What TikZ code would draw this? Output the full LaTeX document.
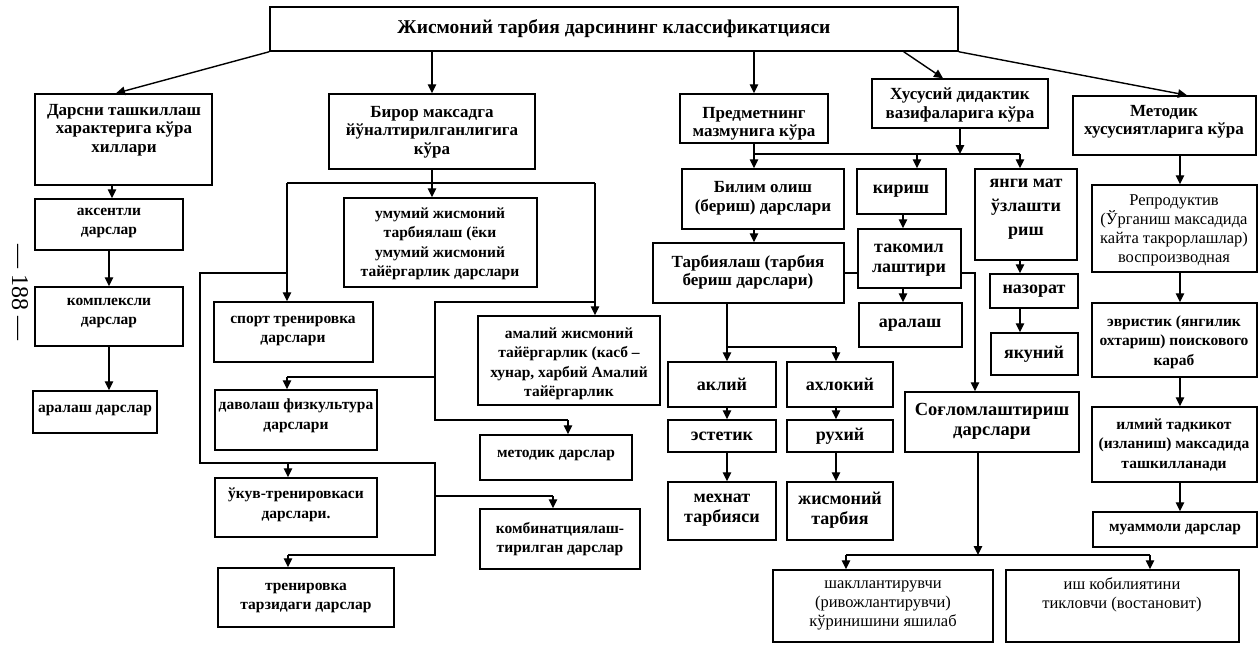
\documentclass[tikz,border=0pt]{standalone}
\usepackage{fontspec}
\setmainfont{Liberation Serif}
\usetikzlibrary{arrows.meta,fit,calc}
\newcommand\ftitle{\fontsize{19.5}{22}\selectfont\bfseries}
\newcommand\fhead{\fontsize{17}{18.5}\selectfont\bfseries}
\newcommand\fbody{\fontsize{15.5}{19.5}\selectfont\bfseries}
\newcommand\fmed{\fontsize{18}{20}\selectfont\bfseries}
\newcommand\freg{\fontsize{16.5}{19}\selectfont}
\newcommand\fpage{\fontsize{24}{26}\selectfont}
\tikzset{
  box/.style={draw, line width=1.5pt, inner sep=0pt},
  txt/.style={align=center, inner sep=0pt, font=\fbody},
  ln/.style={line width=1.4pt},
  arr/.style={line width=1.4pt, -{Triangle[length=9pt,width=8.5pt]}}
}
\begin{document}
\begin{tikzpicture}[x=1pt,y=-1pt]
\useasboundingbox (0,0) rectangle (1259,645);
% boxes
\node[box, fit={(270,7)(958,51)}] (top) {};
\node[box, fit={(35,94)(212,185)}] (A) {};
\node[box, fit={(329,94)(535,169)}] (B) {};
\node[box, fit={(680,94)(828,143)}] (C) {};
\node[box, fit={(872,79)(1048,128)}] (D) {};
\node[box, fit={(1073,96)(1256,155)}] (E) {};
\node[box, fit={(35,199)(183,250)}] (A1) {};
\node[box, fit={(35,287)(183,346)}] (A2) {};
\node[box, fit={(33,391)(157,433)}] (A3) {};
\node[box, fit={(344,198)(537,287)}] (B1) {};
\node[box, fit={(214,302)(373,362)}] (B2) {};
\node[box, fit={(478,316)(660,405)}] (B3) {};
\node[box, fit={(215,390)(377,450)}] (B4) {};
\node[box, fit={(480,435)(632,480)}] (B5) {};
\node[box, fit={(215,478)(377,537)}] (B6) {};
\node[box, fit={(480,509)(640,569)}] (B7) {};
\node[box, fit={(218,568)(394,627)}] (B8) {};
\node[box, fit={(682,169)(844,229)}] (C1) {};
\node[box, fit={(653,243)(844,303)}] (C2) {};
\node[box, fit={(668,362)(776,407)}] (Aq) {};
\node[box, fit={(787,362)(893,407)}] (Ax) {};
\node[box, fit={(668,420)(776,452)}] (Es) {};
\node[box, fit={(787,420)(893,452)}] (Ru) {};
\node[box, fit={(668,482)(776,540)}] (Me) {};
\node[box, fit={(787,482)(893,540)}] (Ji) {};
\node[box, fit={(857,169)(946,214)}] (Kir) {};
\node[box, fit={(858,229)(961,288)}] (Tak) {};
\node[box, fit={(859,303)(962,347)}] (Ar) {};
\node[box, fit={(975,169)(1077,260)}] (Yan) {};
\node[box, fit={(990,274)(1078,308)}] (Naz) {};
\node[box, fit={(991,333)(1078,375)}] (Yak) {};
\node[box, fit={(905,392)(1079,452)}] (Sog) {};
\node[box, fit={(1092,185)(1257,272)}] (Rep) {};
\node[box, fit={(1092,303)(1257,377)}] (Evr) {};
\node[box, fit={(1092,407)(1257,482)}] (Ilm) {};
\node[box, fit={(1093,512)(1257,547)}] (Mua) {};
\node[box, fit={(773,570)(993,642)}] (Sh) {};
\node[box, fit={(1006,570)(1239,642)}] (Ish) {};
% texts
\node[txt, font=\ftitle] (tTop) at (614,29) {Жисмоний тарбия дарсининг классификатцияси};
\node[txt, font=\fhead] (tA) at (124,130) {Дарсни ташкиллаш\\характерига кўра\\хиллари};
\node[txt, font=\fhead] (tB) at (432,132) {Бирор максадга\\йўналтирилганлигига\\кўра};
\node[txt, font=\fhead] (tC) at (754,124) {Предметнинг\\мазмунига кўра};
\node[txt, font=\fhead] (tD) at (960,105) {Хусусий дидактик\\вазифаларига кўра};
\node[txt, font=\fhead] (tE) at (1164,122) {Методик\\хусусиятларига кўра};
\node[txt] (tA1) at (109,223) {аксентли\\дарслар};
\node[txt] (tA2) at (109,313) {комплексли\\дарслар};
\node[txt] (tA3) at (95,410) {аралаш дарслар};
\node[txt] (tB1) at (440,244) {умумий жисмоний\\тарбиялаш (ёки\\умумий жисмоний\\тайёргарлик дарслари};
\node[txt] (tB2) at (293,331) {спорт тренировка\\дарслари};
\node[txt] (tB3) at (569,364) {амалий жисмоний\\тайёргарлик (касб –\\хунар, харбий Амалий\\тайёргарлик};
\node[txt] (tB4) at (296,416) {даволаш физкультура\\дарслари};
\node[txt] (tB5) at (556,455) {методик дарслар};
\node[txt] (tB6) at (296,505) {ўкув-тренировкаси\\дарслари.};
\node[txt] (tB7) at (560,539) {комбинатциялаш-\\тирилган дарслар};
\node[txt] (tB8) at (306,598) {тренировка\\тарзидаги дарслар};
\node[txt, font=\fhead] (tC1) at (763,198) {Билим олиш\\(бериш) дарслари};
\node[txt, font=\fhead] (tC2) at (748,272) {Тарбиялаш (тарбия\\бериш дарслари)};
\node[txt, font=\fmed] (tAq) at (722,384) {аклий};
\node[txt, font=\fmed] (tAx) at (840,384) {ахлокий};
\node[txt, font=\fmed] (tEs) at (722,436) {эстетик};
\node[txt, font=\fmed] (tRu) at (840,436) {рухий};
\node[txt, font=\fmed] (tMe) at (722,510) {мехнат\\тарбияси};
\node[txt, font=\fmed] (tJi) at (840,510) {жисмоний\\тарбия};
\node[txt, font=\fmed] (tKir) at (901,191) {кириш};
\node[txt, font=\fmed] (tTak) at (909,260) {такомил\\лаштири};
\node[txt, font=\fmed] (tAr) at (910,325) {аралаш};
\node[txt, font=\fmed] (tYan) at (1026,209) {янги мат\\[4pt]ўзлашти\\[4pt]риш};
\node[txt, font=\fmed] (tNaz) at (1034,291) {назорат};
\node[txt, font=\fmed] (tYak) at (1034,354) {якуний};
\node[txt, font=\fhead\fontsize{18.5}{20}\selectfont] (tSog) at (992,421) {Соғломлаштириш\\дарслари};
\node[txt, font=\freg] (tRep) at (1174,230) {Репродуктив\\(Ўрганиш максадида\\кайта такрорлашлар)\\воспроизводная};
\node[txt] (tEvr) at (1174,342) {эвристик (янгилик\\охтариш) поискового\\караб};
\node[txt] (tIlm) at (1174,445) {илмий тадкикот\\(изланиш) максадида\\ташкилланади};
\node[txt] (tMua) at (1175,530) {муаммоли дарслар};
\node[txt, font=\freg] (tSh) at (883,605) {шакллантирувчи\\(ривожлантирувчи)\\кўринишини яшилаб};
\node[txt, font=\freg] (tIsh) at (1122,595) {иш кобилиятини\\тикловчи (востановит)};
\node[rotate=-90, font=\fpage, inner sep=0pt] (pg) at (20,292) {— 188 —};
% connectors from the title box
\draw[arr] (top.south west) -- ([xshift=-7.5pt]A.north);
\draw[arr] (B.north |- top.south) -- (B.north);
\draw[arr] (C.north |- top.south) -- (C.north);
\draw[arr] ([xshift=-55pt]top.south east) -- ([xshift=-17pt]D.north);
\draw[arr] (top.south east) -- ([xshift=22.5pt]E.north);
% column A
\draw[arr] ([xshift=-11.5pt]A.south) -- ([xshift=-11.5pt]A.south |- A1.north);
\draw[arr] (A1.south) -- (A2.north);
\draw[arr] (A2.south) -- (A2.south |- A3.north);
% column B
\coordinate (bL) at (287,183);
\coordinate (bR) at (595,183);
\draw[arr] (B.south) -- (B.south |- B1.north);
\draw[ln] (bL) -- (bR);
\draw[arr] (bL) -- (bL |- B2.north);
\draw[arr] (bR) -- (bR |- B3.north);
\coordinate (l1) at (287,273);
\coordinate (l2) at (200,463);
\coordinate (l3) at (435,463);
\coordinate (l4) at (435,555);
\coordinate (l5) at (288,555);
\coordinate (l6) at (288,463);
\coordinate (l7) at (435,496);
\coordinate (l8) at (553,496);
\draw[ln] (l1) -| (l2) -- (l3) -- (l4) -- (l5);
\draw[arr] (l5) -- (l5 |- B8.north);
\draw[arr] (l6) -- (l6 |- B6.north);
\draw[ln] (l7) -- (l8);
\draw[arr] (l8) -- (l8 |- B7.north);
\coordinate (r1) at (595,302);
\coordinate (r2) at (435,420);
\coordinate (r3) at (568,420);
\coordinate (r4) at (435,377);
\coordinate (r5) at (287,377);
\draw[ln] (r1) -| (r2) -- (r3);
\draw[arr] (r3) -- (r3 |- B5.north);
\draw[ln] (r4) -- (r5);
\draw[arr] (r5) -- (r5 |- B4.north);
% column C / D
\coordinate (cR) at (1020,154);
\coordinate (cK) at (917,154);
\draw[arr] (C.south) -- (C.south |- C1.north);
\draw[ln] (C.south |- cR) -- (cR);
\draw[arr] (D.south) -- (D.south |- cR);
\draw[arr] (cK) -- (cK |- Kir.north);
\draw[arr] (cR) -- (cR |- Yan.north);
\draw[arr] (C.south |- C1.south) -- (C.south |- C2.north);
\draw[ln] (C2.east) -- (C2.east -| Tak.west);
\coordinate (tk) at (975,273);
\draw[arr] (C2.east -| Tak.east) -- (tk) -- (tk |- Sog.north);
\coordinate (c2a) at (727,347);
\coordinate (c2b) at (836,347);
\draw[ln] (c2a |- C2.south) -- (c2a) -- (c2b);
\draw[arr] (c2a) -- (c2a |- Aq.north);
\draw[arr] (c2b) -- (c2b |- Ax.north);
\draw[arr] (c2a |- Aq.south) -- (c2a |- Es.north);
\draw[arr] (c2b |- Ax.south) -- (c2b |- Ru.north);
\draw[arr] (c2a |- Es.south) -- (c2a |- Me.north);
\draw[arr] (c2b |- Ru.south) -- (c2b |- Ji.north);
\coordinate (kx) at (903,0);
\draw[arr] (kx |- Kir.south) -- (kx |- Tak.north);
\draw[arr] (kx |- Tak.south) -- (kx |- Ar.north);
\coordinate (yx) at (1020,0);
\draw[arr] (yx |- Yan.south) -- (yx |- Naz.north);
\draw[arr] (yx |- Naz.south) -- (yx |- Yak.north);
% bottom
\coordinate (sg) at (978,555);
\coordinate (bl) at (846,555);
\coordinate (br) at (1150,555);
\draw[arr] (sg |- Sog.south) -- (sg);
\draw[ln] (bl) -- (br);
\draw[arr] (bl) -- (bl |- Sh.north);
\draw[arr] (br) -- (br |- Ish.north);
% column E
\coordinate (ex) at (1180,0);
\draw[arr] (ex |- E.south) -- (ex |- Rep.north);
\draw[arr] (ex |- Rep.south) -- (ex |- Evr.north);
\draw[arr] (ex |- Evr.south) -- (ex |- Ilm.north);
\draw[arr] (ex |- Ilm.south) -- (ex |- Mua.north);
\end{tikzpicture}
\end{document}
